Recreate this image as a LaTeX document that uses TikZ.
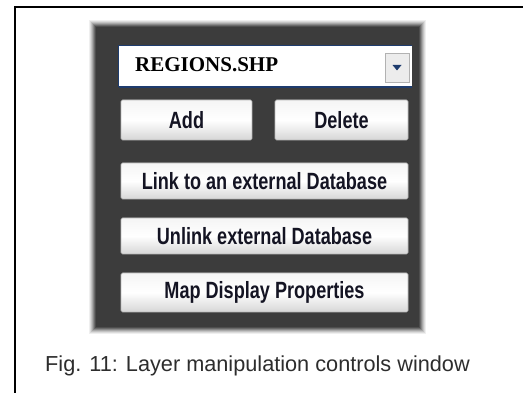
\documentclass[tikz,border=0pt]{standalone}
\usepackage{fontspec}
\setmainfont{Liberation Sans}
\newfontfamily\capfont{Liberation Sans}
\newfontfamily\fieldfont{Liberation Serif}
\newfontfamily\btnfont[FakeStretch=0.77]{Liberation Sans}
\definecolor{panelgray}{RGB}{60,60,60}
\definecolor{fieldblue}{RGB}{30,60,110}
\definecolor{btntext}{RGB}{20,20,35}
\definecolor{captext}{RGB}{45,45,45}
\tikzset{
  btn/.style={draw=gray!55, line width=0.6pt, rounded corners=1.5pt,
    top color=white!92!gray, bottom color=gray!32, middle color=white},
  btnlabel/.style={font=\btnfont\bfseries\fontsize{23.5}{25}\selectfont,
    text=btntext, inner sep=0pt, anchor=center},
}
\begin{document}
\begin{tikzpicture}[x=1pt, y=-1pt]
  \useasboundingbox (0,0) rectangle (523,393);
  \fill[white] (0,0) rectangle (523,393);

  % page frame (top and left rule)
  \draw[line width=2.2pt, black] (15,393) -- (15,7) -- (523,7);

  % soft edge of the dark control panel
  \foreach \k/\op in {7/0.08, 6/0.11, 5/0.15, 4/0.2, 3/0.28, 2/0.4, 1/0.6}{
    \fill[panelgray, opacity=\op] (96-\k,27-\k) rectangle (419+\k,327+\k);
  }
  \fill[panelgray] (96,27) rectangle (419,327);

  % layer selector drop-down
  \node[draw=none, fill=white, minimum width=293pt, minimum height=41pt,
        inner sep=0pt] (combo) at (265.5,66.5) {};
  \draw[fieldblue, line width=0.8pt] (combo.south west) -- (combo.north west) -- (combo.north east);
  \draw[fieldblue, line width=1.6pt] (combo.south west) -- (combo.south east);
  \node[anchor=base west, inner sep=0pt, font=\fieldfont\bfseries\fontsize{21}{23}\selectfont,
        text=black] (layername) at (135,72) {REGIONS.SHP};
  \node[draw=gray!60, fill=gray!15, minimum width=24pt, minimum height=29pt,
        inner sep=0pt] (arrowbtn) at (397,67.5) {};
  \fill[fieldblue] ([xshift=-4.5pt,yshift=2.5pt]arrowbtn.center) -- ([xshift=4.5pt,yshift=2.5pt]arrowbtn.center)
        -- ([yshift=-3pt]arrowbtn.center) -- cycle;

  % command buttons
  \node[btn, minimum width=131pt, minimum height=40pt, inner sep=0pt] (add) at (186.5,120) {};
  \node[btnlabel] at (add.center) {Add};
  \node[btn, minimum width=133pt, minimum height=40pt, inner sep=0pt] (delete) at (341.5,120) {};
  \node[btnlabel] at (delete.center) {Delete};

  \node[btn, minimum width=287pt, minimum height=36pt, inner sep=0pt] (link) at (264.5,181) {};
  \node[btnlabel] at (link.center) {Link to an external Database};
  \node[btn, minimum width=287pt, minimum height=36pt, inner sep=0pt] (unlink) at (264.5,236) {};
  \node[btnlabel] at (unlink.center) {Unlink external Database};
  \node[btn, minimum width=287pt, minimum height=39pt, inner sep=0pt] (mapprops) at (264.5,292.5) {};
  \node[btnlabel] at (mapprops.center) {Map Display Properties};

  % caption
  \node[anchor=base west, inner sep=0pt, font=\capfont\fontsize{21.7}{24}\selectfont,
        text=captext] (caption) at (45,371) {Fig. 11: Layer manipulation controls window};
\end{tikzpicture}
\end{document}
